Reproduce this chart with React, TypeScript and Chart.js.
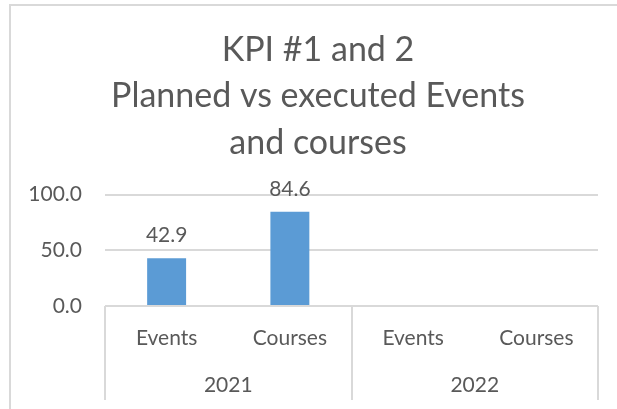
import React, { useEffect, useRef } from 'react';
import { Chart, registerables } from 'chart.js';

Chart.register(...registerables);

const titleLines = ['KPI #1 and 2', 'Planned vs executed Events', 'and courses'];
const categories = ['Events', 'Courses', 'Events', 'Courses'];
const years = ['2021', '2022'];
const values: (number | null)[] = [42.9, 84.6, null, null];
const yMin = 0;
const yMax = 100;
const yStep = 50;

const FONT = 'Lato';
const TEXT = '#595959';
const LINE = '#D9D9D9';
const BAR = '#5B9BD5';
const TICK_SIZE = 21;

const frame = {
  id: 'frame',
  afterLayout(chart: any) {
    // centre the title over the chart frame (which starts at x=10 and runs to the right edge)
    const t = chart.titleBlock;
    if (t) {
      t.left = 38;
      t.width = t.right - t.left;
    }
  },
  beforeDraw(chart: any) {
    const ctx = chart.ctx;
    ctx.save();
    ctx.fillStyle = '#FFFFFF';
    ctx.fillRect(0, 0, chart.width, chart.height);
    ctx.strokeStyle = LINE;
    ctx.lineWidth = 2;
    ctx.beginPath();
    ctx.moveTo(10, chart.height);
    ctx.lineTo(10, 5);
    ctx.lineTo(chart.width, 5);
    ctx.stroke();
    ctx.restore();
  },
};

const dataLabels = {
  id: 'dataLabels',
  afterDatasetsDraw(chart: any) {
    const ctx = chart.ctx;
    const meta = chart.getDatasetMeta(0);
    ctx.save();
    ctx.font = `${TICK_SIZE}px ${FONT}`;
    ctx.fillStyle = TEXT;
    ctx.textAlign = 'center';
    ctx.textBaseline = 'alphabetic';
    meta.data.forEach((el: any, i: number) => {
      const v = values[i];
      if (v == null) return;
      ctx.fillText(v.toFixed(1), el.x, el.y - 16);
    });
    ctx.restore();
  },
};

const groupAxis = {
  id: 'groupAxis',
  afterDraw(chart: any) {
    const ctx = chart.ctx;
    const xs = chart.scales.x;
    const top = chart.chartArea.bottom;
    const bottom = 400;
    const per = categories.length / years.length;
    const edge = (i: number) => {
      if (i <= 0) return xs.left;
      if (i >= categories.length) return xs.right;
      return (xs.getPixelForValue(i - 1) + xs.getPixelForValue(i)) / 2;
    };
    ctx.save();
    ctx.strokeStyle = LINE;
    ctx.lineWidth = 2;
    for (let g = 0; g <= years.length; g++) {
      const px = Math.round(edge(g * per));
      ctx.beginPath();
      ctx.moveTo(px, top);
      ctx.lineTo(px, bottom);
      ctx.stroke();
    }
    ctx.font = `${TICK_SIZE}px ${FONT}`;
    ctx.fillStyle = TEXT;
    ctx.textAlign = 'center';
    ctx.textBaseline = 'alphabetic';
    years.forEach((y, g) => {
      const cx = (edge(g * per) + edge((g + 1) * per)) / 2;
      ctx.fillText(y, cx, 392);
    });
    ctx.restore();
  },
};

export default function App() {
  const ref = useRef<HTMLCanvasElement | null>(null);
  useEffect(() => {
    if (!ref.current) return;
    const chart = new Chart(ref.current, {
      type: 'bar',
      data: {
        labels: categories,
        datasets: [
          {
            data: values,
            backgroundColor: BAR,
            borderWidth: 0,
            barPercentage: 0.316,
            categoryPercentage: 1,
          },
        ],
      },
      options: {
        responsive: false,
        animation: false,
        layout: { padding: { left: 0, right: 19, top: 0, bottom: 9 } },
        plugins: {
          legend: { display: false },
          tooltip: { enabled: false },
          title: {
            display: true,
            text: titleLines,
            color: TEXT,
            font: { family: FONT, size: 34, weight: 'normal', lineHeight: 1.36 },
            padding: { top: 27, bottom: 29 },
          },
        },
        scales: {
          x: {
            grid: { display: false, drawTicks: false },
            border: { display: false },
            ticks: {
              color: TEXT,
              font: { family: FONT, size: TICK_SIZE },
              padding: 20,
              maxRotation: 0,
              autoSkip: false,
            },
            afterFit(s: any) {
              s.height = 94;
            },
          },
          y: {
            min: yMin,
            max: yMax,
            ticks: {
              stepSize: yStep,
              color: TEXT,
              font: { family: FONT, size: TICK_SIZE },
              padding: 23,
              callback: (v: any) => Number(v).toFixed(1),
            },
            grid: { color: LINE, lineWidth: 2, drawTicks: false },
            border: { display: false },
            afterFit(s: any) {
              s.width = 105;
            },
          },
        },
      },
      plugins: [frame, dataLabels, groupAxis],
    } as any);
    return () => chart.destroy();
  }, []);
  return (
    <div style={{ position: 'fixed', left: 0, top: 0, width: 617, height: 409 }}>
      <canvas ref={ref} width={617} height={409} style={{ display: 'block' }} />
    </div>
  );
}
